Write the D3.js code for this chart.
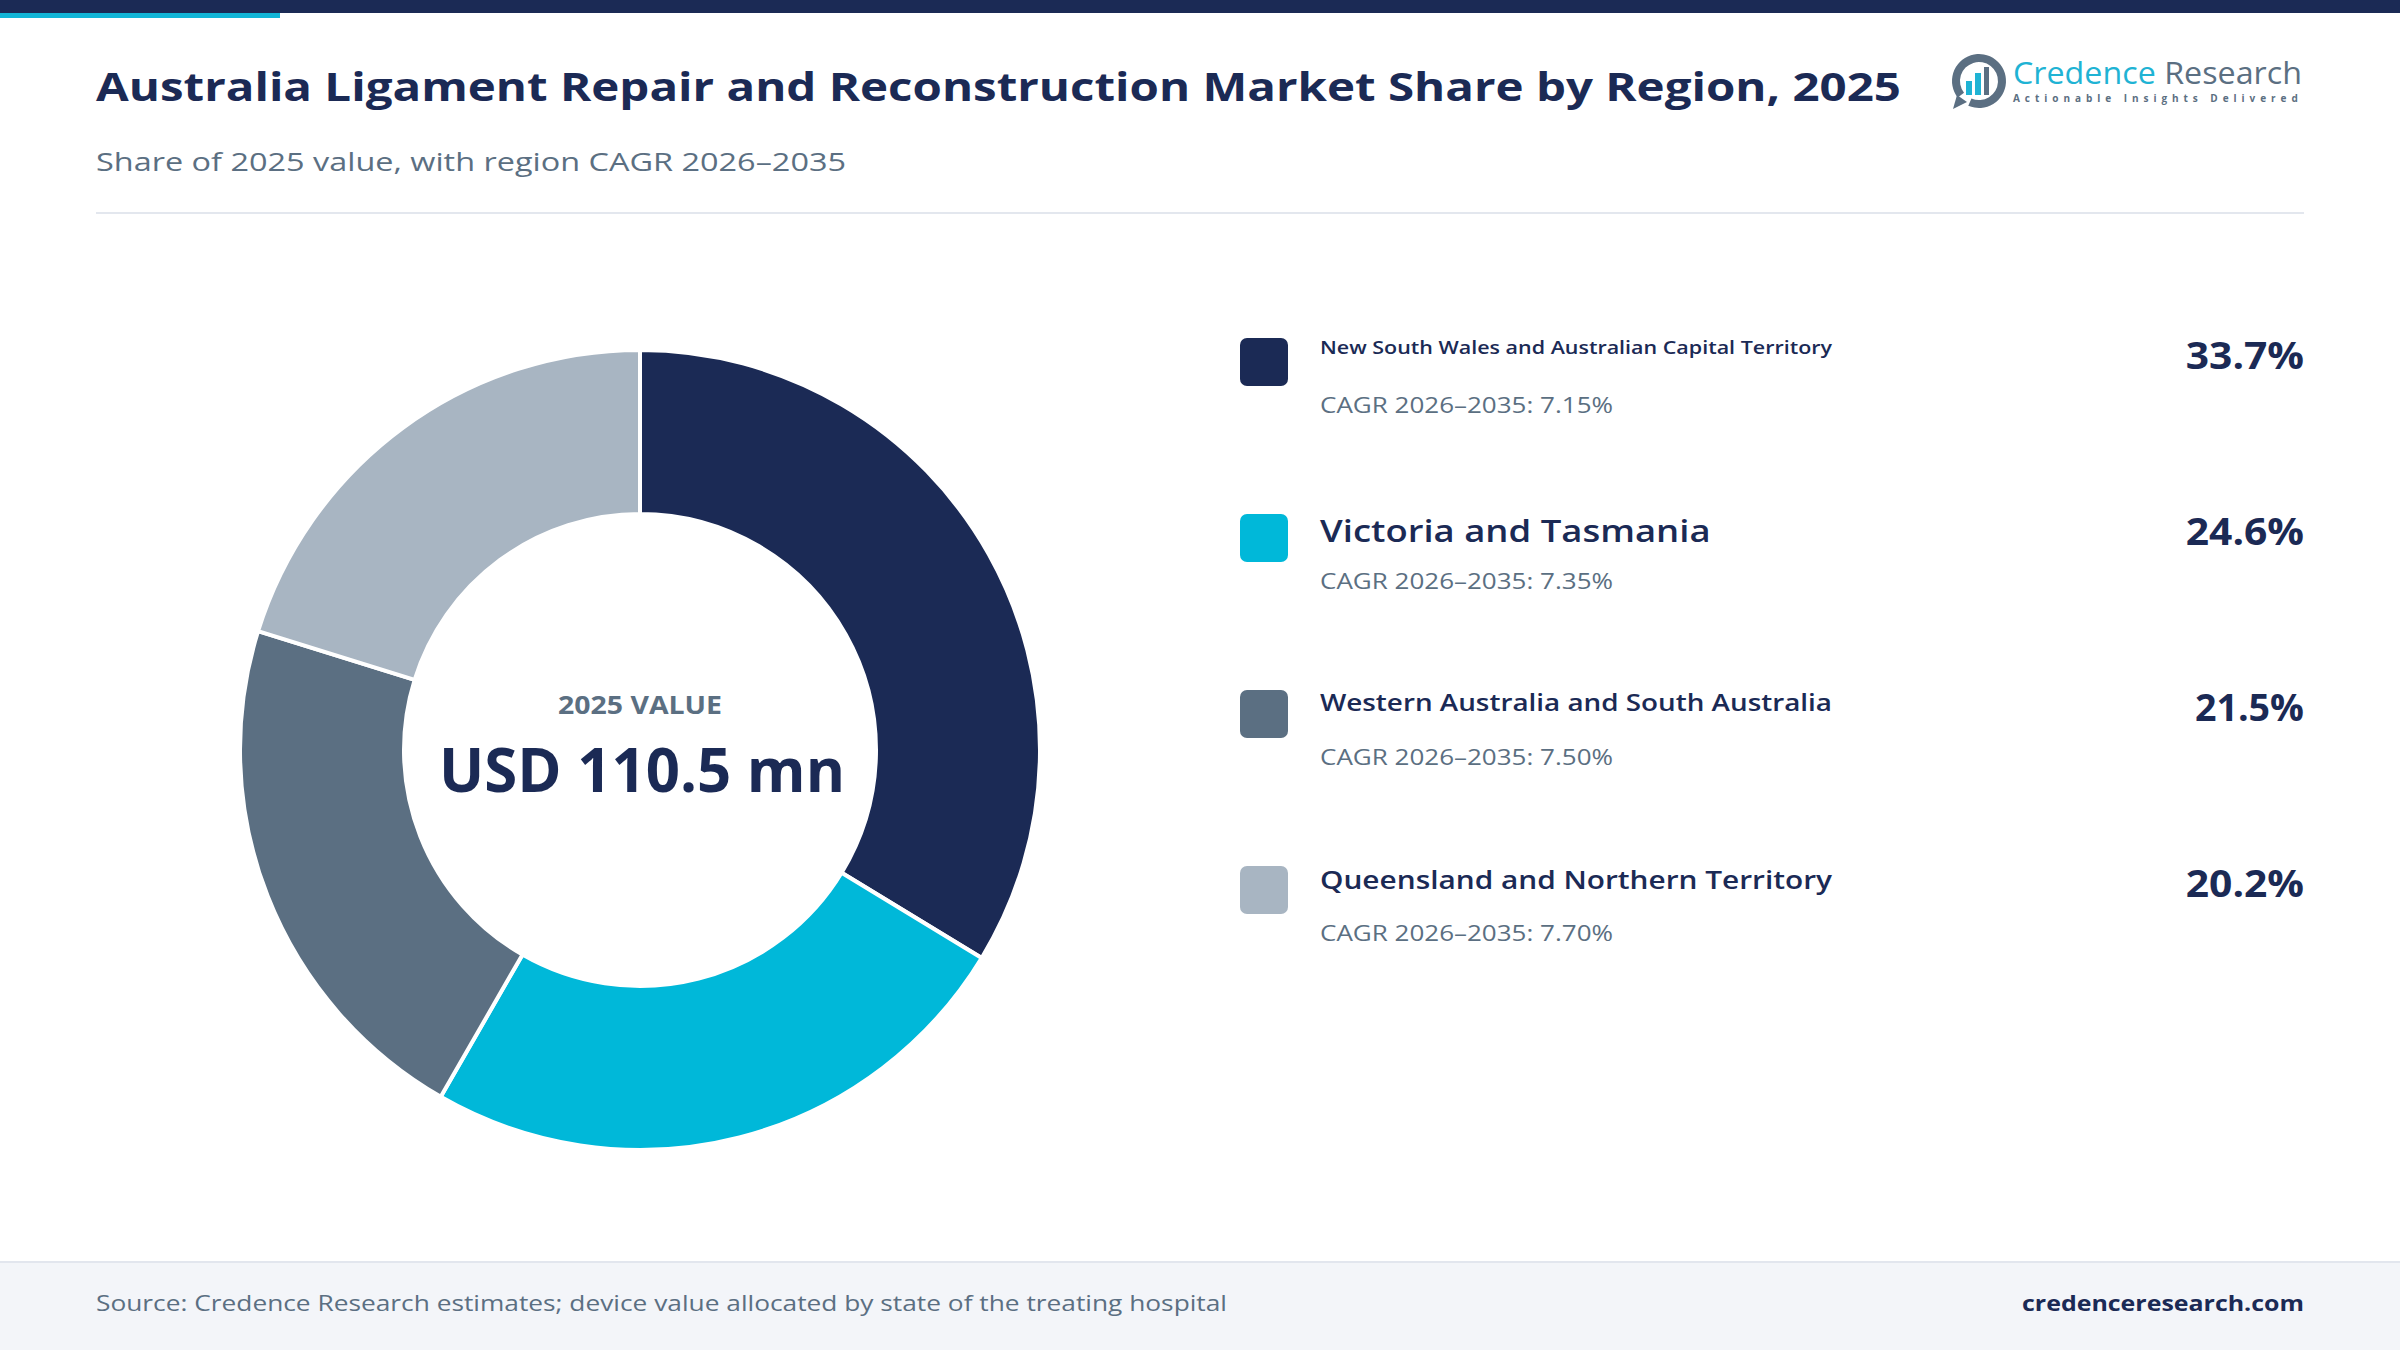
<!DOCTYPE html>
<html>
<head>
<meta charset="utf-8">
<script src="https://cdn.jsdelivr.net/npm/d3@7"></script>
<style>
  html, body { margin: 0; padding: 0; background: #ffffff; }
  svg { display: block; }
  text { font-family: "Open Sans", "Noto Sans", sans-serif; }
</style>
</head>
<body>
<svg id="chart" width="2400" height="1350"></svg>
<script>
// ---------- DATA ----------
const regions = [
  "New South Wales and Australian Capital Territory",
  "Victoria and Tasmania",
  "Western Australia and South Australia",
  "Queensland and Northern Territory"
];
const shares = [33.7, 24.6, 21.5, 20.2];
const cagrs = [7.15, 7.35, 7.50, 7.70];
const colors = ["#1b2a55", "#00b8d9", "#5b6f82", "#a8b5c2"];
const totalValueLabel = "USD 110.5 mn";
const centerCaption = "2025 VALUE";
const titleText = "Australia Ligament Repair and Reconstruction Market Share by Region, 2025";
const subtitleText = "Share of 2025 value, with region CAGR 2026\u20132035";
const sourceText = "Source: Credence Research estimates; device value allocated by state of the treating hospital";
const siteText = "credenceresearch.com";

// ---------- SETUP ----------
const W = 2400, H = 1350;
const NAVY = "#1b2a55", SLATE = "#5b6f82";
const svg = d3.select("#chart");

// Force a rendered width (reference typeface metrics differ from the fallback font)
function fitWidth(sel, width) {
  sel.attr("textLength", width).attr("lengthAdjust", "spacingAndGlyphs");
  return sel;
}
// Rough width estimate of a bold geometric sans (em units per glyph)
function estBoldWidth(str, fs) {
  let em = 0;
  for (const c of str) {
    if (c === "1") em += 0.42;
    else if (c === ".") em += 0.27;
    else if (c === "%") em += 0.86;
    else em += 0.66;
  }
  return em * fs;
}

// Top bars
svg.append("rect").attr("x", 0).attr("y", 0).attr("width", W).attr("height", 13).attr("fill", NAVY);
svg.append("rect").attr("x", 0).attr("y", 13).attr("width", 280).attr("height", 5).attr("fill", "#12b5d6");

// Title
svg.append("text").attr("x", 96).attr("y", 101)
  .attr("font-size", 40).attr("font-weight", 700).attr("fill", NAVY).text(titleText)
  .call(fitWidth, 1805);

svg.append("text").attr("x", 96).attr("y", 171)
  .attr("font-size", 26).attr("font-weight", 400).attr("fill", SLATE).text(subtitleText)
  .call(fitWidth, 750);

// Separator
svg.append("line").attr("x1", 96).attr("x2", 2304).attr("y1", 213).attr("y2", 213)
  .attr("stroke", "#e3e7ee").attr("stroke-width", 2);

// Logo
const logo = svg.append("g").attr("transform", "translate(1979,81)");
logo.append("path")
  .attr("d", d3.arc().innerRadius(19).outerRadius(27)
    .startAngle(4.05).endAngle(3.55 + 2 * Math.PI)())
  .attr("fill", SLATE);
logo.append("path").attr("d", "M-22,14 L-26,28 L-12,21 Z").attr("fill", SLATE);
logo.append("rect").attr("x", -13).attr("y", 0).attr("width", 6).attr("height", 14).attr("fill", "#1fb3d4");
logo.append("rect").attr("x", -4).attr("y", -8).attr("width", 6).attr("height", 22).attr("fill", "#1fb3d4");
logo.append("rect").attr("x", 5).attr("y", -14).attr("width", 5).attr("height", 28).attr("fill", SLATE);
const brand = svg.append("text").attr("x", 2013).attr("y", 84).attr("font-size", 31).attr("font-weight", 400);
brand.append("tspan").attr("fill", "#1fb3d4").text("Credence");
brand.append("tspan").attr("fill", SLATE).text(" Research");
brand.call(fitWidth, 289);
svg.append("text").attr("x", 2013).attr("y", 102).attr("font-size", 10).attr("font-weight", 700)
  .attr("fill", SLATE).attr("letter-spacing", 4.2).text("Actionable Insights Delivered")
  .attr("textLength", 289).attr("lengthAdjust", "spacing");

// ---------- DONUT ----------
const cx = 640, cy = 750, rOuter = 400, rInner = 236;
const pie = d3.pie().sort(null).value(d => d.share);
const data = regions.map((r, i) => ({ region: r, share: shares[i], cagr: cagrs[i], color: colors[i] }));
const arcs = pie(data);
const arc = d3.arc().innerRadius(rInner).outerRadius(rOuter);
const gPie = svg.append("g").attr("transform", `translate(${cx},${cy})`);
gPie.selectAll("path").data(arcs).join("path")
  .attr("d", arc)
  .attr("fill", d => d.data.color)
  .attr("stroke", "#ffffff").attr("stroke-width", 4).attr("stroke-linejoin", "round");

gPie.append("text").attr("x", 0).attr("y", -36).attr("text-anchor", "middle")
  .attr("font-size", 25).attr("font-weight", 700).attr("fill", SLATE).text(centerCaption)
  .call(fitWidth, 164);
gPie.append("text").attr("x", 2).attr("y", 42).attr("text-anchor", "middle")
  .attr("font-size", 60).attr("font-weight", 700).attr("fill", NAVY).text(totalValueLabel)
  .call(fitWidth, 406);

// ---------- LEGEND ----------
const yItem = d3.scalePoint().domain(regions).range([338, 866]);
const legX = 1240, textX = 1320, rightX = 2304, nameMax = 512, nameBase = 31, nameEm = 0.6;
const items = svg.append("g").selectAll("g").data(data).join("g")
  .attr("transform", d => `translate(0,${yItem(d.region)})`);

items.append("rect").attr("x", legX).attr("y", 0).attr("width", 48).attr("height", 48)
  .attr("rx", 7).attr("fill", d => d.color);

items.each(function (d) {
  const g = d3.select(this);
  let fs = nameBase;
  let w = d.region.length * nameEm * fs;
  if (w > nameMax) {
    fs = fs * nameMax / w;
    w = nameMax;
  }
  g.append("text").attr("x", textX).attr("y", (0.9 * fs).toFixed(1))
    .attr("font-weight", 600).attr("fill", NAVY)
    .attr("font-size", fs.toFixed(2)).text(d.region)
    .call(fitWidth, w.toFixed(1));
});

items.append("text").attr("x", textX).attr("y", 75)
  .attr("font-size", 22).attr("font-weight", 400).attr("fill", SLATE)
  .text(d => `CAGR 2026\u20132035: ${d.cagr.toFixed(2)}%`)
  .call(fitWidth, 293);

items.append("text").attr("x", rightX).attr("y", 31).attr("text-anchor", "end")
  .attr("font-size", 38).attr("font-weight", 700).attr("fill", NAVY)
  .text(d => `${d.share.toFixed(1)}%`)
  .each(function (d) {
    fitWidth(d3.select(this), estBoldWidth(`${d.share.toFixed(1)}%`, 38).toFixed(1));
  });

// ---------- FOOTER ----------
svg.append("rect").attr("x", 0).attr("y", 1262).attr("width", W).attr("height", H - 1262).attr("fill", "#f3f5f9");
svg.append("rect").attr("x", 0).attr("y", 1261).attr("width", W).attr("height", 2).attr("fill", "#e2e6ee");
svg.append("text").attr("x", 96).attr("y", 1311).attr("font-size", 22).attr("fill", SLATE)
  .text(sourceText).call(fitWidth, 1131);
svg.append("text").attr("x", 2304).attr("y", 1311).attr("text-anchor", "end")
  .attr("font-size", 22).attr("font-weight", 700).attr("fill", NAVY)
  .text(siteText).call(fitWidth, 282);
</script>
</body>
</html>
